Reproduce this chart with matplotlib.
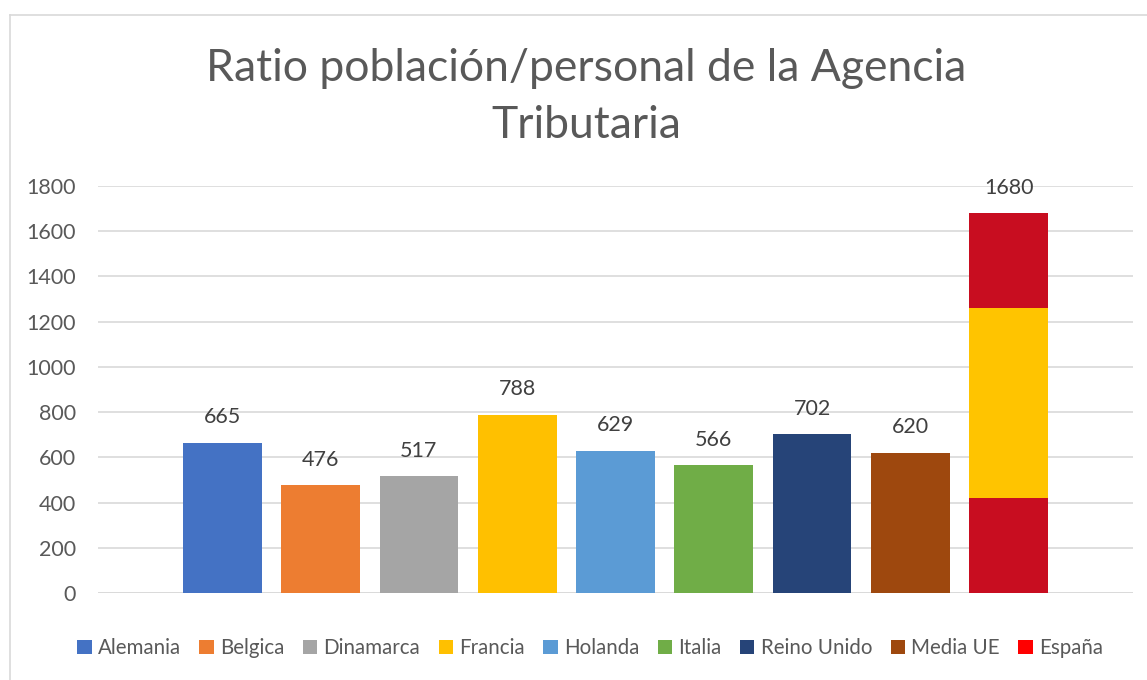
import matplotlib
matplotlib.use("Agg")
import matplotlib.pyplot as plt
from matplotlib.patches import Patch
from matplotlib.lines import Line2D

plt.rcParams['font.family'] = ['Lato', 'DejaVu Sans']

categories = ["Alemania", "Belgica", "Dinamarca", "Francia", "Holanda", "Italia",
              "Reino Unido", "Media UE", "España"]
values = [665, 476, 517, 788, 629, 566, 702, 620, 1680]
colors = ["#4472C4", "#ED7D31", "#A5A5A5", "#FFC000", "#5B9BD5", "#70AD47",
          "#264478", "#9E480E", "#FF0000"]
espana_parts = [420, 840, 420]
espana_colors = ["#C80D20", "#FFC400", "#C80D20"]
yticks = [0, 200, 400, 600, 800, 1000, 1200, 1400, 1600, 1800]

W, H = 1147, 680
fig = plt.figure(figsize=(W / 100, H / 100), dpi=100)
ax = fig.add_axes([98 / W, 1 - 593 / H, (1133 - 98) / W, (593 - 186) / H])

txt = "#595959"
width = 0.8
for i, (c, v, col) in enumerate(zip(categories, values, colors)):
    if c == "España":
        bottom = 0
        for p, pc in zip(espana_parts, espana_colors):
            ax.bar(i, p, width=width, bottom=bottom, color=pc, zorder=3)
            bottom += p
    else:
        ax.bar(i, v, width=width, color=col, zorder=3)
    ax.text(i, v + 68, str(v), ha="center", va="bottom", fontsize=15.5, color="#404040")

ax.set_xlim(-0.4 - 0.865, len(categories) - 1 + 0.4 + 0.865)
ax.set_ylim(0, 1800)
ax.set_yticks(yticks)
ax.set_yticklabels([str(t) for t in yticks], fontsize=15.5, color=txt)
ax.tick_params(axis="y", length=0, pad=16)
ax.set_xticks([])
ax.grid(axis="y", color="#D9D9D9", linewidth=1.2, zorder=0)
for s in ax.spines.values():
    s.set_visible(False)
ax.axhline(0, color="#D9D9D9", linewidth=1.2, zorder=2)

fig.text(586 / W, 1 - 97 / H, "Ratio población/personal de la Agencia\nTributaria",
         ha="center", va="center", fontsize=32, color=txt, linespacing=1.5)

handles = [Patch(facecolor=col, edgecolor="none") for col in colors]
leg = fig.legend(handles, categories, loc="center", bbox_to_anchor=(590 / W, 1 - 648 / H),
                 ncol=9, frameon=False, fontsize=14.8, handlelength=0.7, handleheight=0.7,
                 handletextpad=0.3, columnspacing=0.9)
for t in leg.get_texts():
    t.set_color(txt)

fig.add_artist(Line2D([10 / W, 10 / W], [0, 1 - 15 / H], color="#D9D9D9", linewidth=1.2))
fig.add_artist(Line2D([10 / W, 1], [1 - 15 / H, 1 - 15 / H], color="#D9D9D9", linewidth=1.2))

fig.savefig("out.png", dpi=100, facecolor="white")
